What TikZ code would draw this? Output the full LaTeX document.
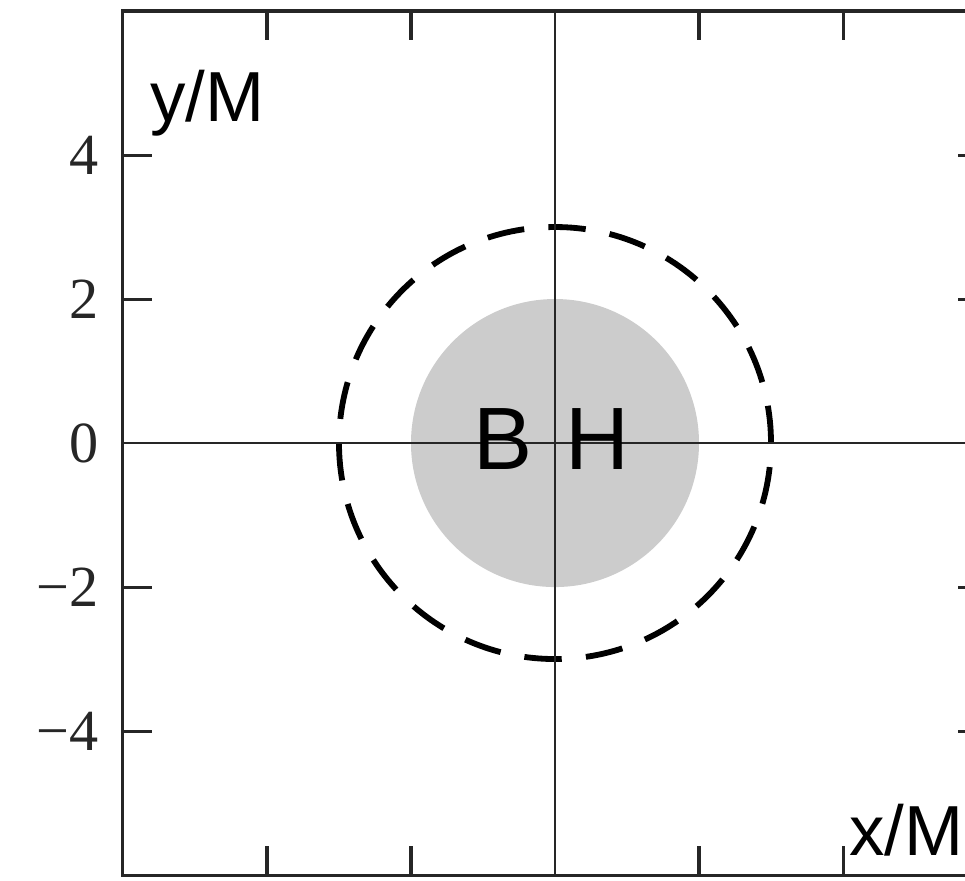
\documentclass[tikz,border=0pt]{standalone}
\usepackage{fontspec}
\setmainfont{Liberation Serif}
\newfontfamily\handfont{Liberation Sans}
\usetikzlibrary{positioning}

\begin{document}
\begin{tikzpicture}[
    frame/.style={line width=1.2pt, draw=black!85},
    axis/.style={line width=1.1pt, draw=black!85},
    horizon/.style={fill=black!20, draw=none},
    sphere/.style={line width=2.3pt, draw=black, dash pattern=on 0.52cm off 0.337cm},
    ticklbl/.style={font=\fontsize{23}{28}\selectfont, anchor=east, inner sep=0pt, text=black!85},
    hand/.style={font=\handfont\fontsize{28}{32}\selectfont, inner sep=0pt},
]
\useasboundingbox (-7.708,-6.069) rectangle (5.694,6.153);
\clip (-7.708,-6.069) rectangle (5.694,6.153);

% horizon disk and dashed sphere
\fill[horizon] (0,0) circle (2);
\draw[sphere] (0,0) circle (3);

% axes through the origin
\draw[axis] (-6,0) -- (6,0);
\draw[axis] (0,-6) -- (0,6);

% frame and ticks
\draw[frame] (-6,-6) rectangle (6,6);
\foreach \v in {-4,-2,2,4} {
    \draw[frame] (-6,\v) -- (-5.6,\v);
    \draw[frame] (6,\v) -- (5.6,\v);
    \draw[frame] (\v,-6) -- (\v,-5.6);
    \draw[frame] (\v,6) -- (\v,5.6);
}

% tick labels
\foreach \v/\t in {4/4, 2/2, 0/0, -2/−2, -4/−4} {
    \node[ticklbl] (ylbl\v) at (-6.33,\v) {\t};
}

% hand-written labels
\node[hand] (ylabel) at (-4.83,4.72) {y/M};
\node[hand] (xlabel) at (4.88,-5.37) {x/M};
\node[hand, font=\handfont\fontsize{35}{40}\selectfont] (bh) at (-0.05,0.05) {B\hspace{0.45cm}H};

\end{tikzpicture}
\end{document}
